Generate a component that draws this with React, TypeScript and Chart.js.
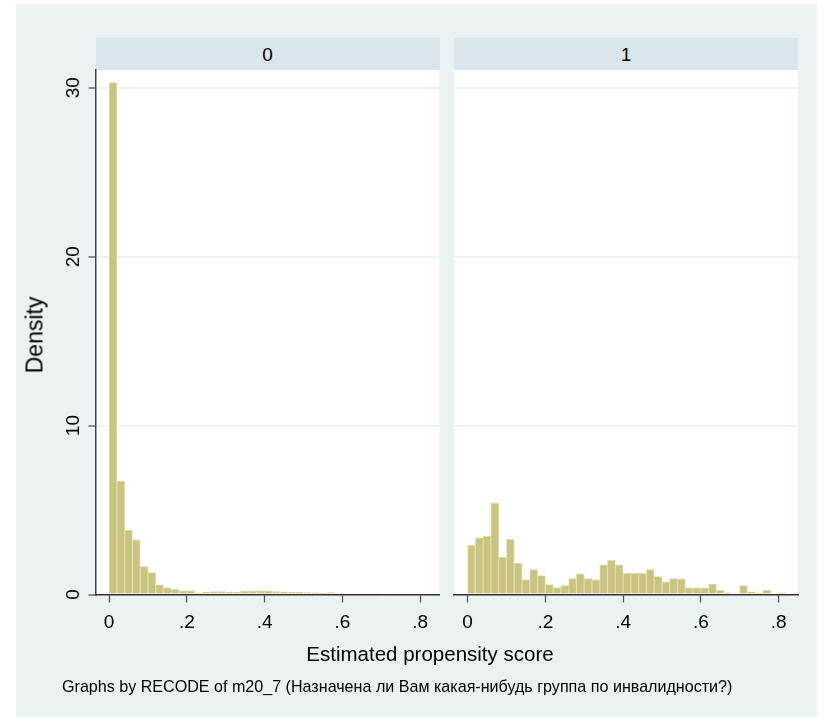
import React, { useEffect, useRef } from 'react';
import { Chart, registerables } from 'chart.js';

Chart.register(...registerables);

// ---------------- data ----------------
const binStarts = [
  0, 0.02, 0.04, 0.06, 0.08, 0.1, 0.12, 0.14, 0.16, 0.18,
  0.2, 0.22, 0.24, 0.26, 0.28, 0.3, 0.32, 0.34, 0.36, 0.38,
  0.4, 0.42, 0.44, 0.46, 0.48, 0.5, 0.52, 0.54, 0.56, 0.58,
  0.6, 0.62, 0.64, 0.66, 0.68, 0.7, 0.72, 0.74, 0.76, 0.78, 0.8,
];
const binWidth = 0.02;

// group 0 (not assigned)
const densityGroup0 = [
  30.3, 6.71, 3.8, 3.24, 1.65, 1.3, 0.57, 0.39, 0.3, 0.22,
  0.22, 0.1, 0.14, 0.18, 0.18, 0.14, 0.14, 0.2, 0.22, 0.22,
  0.22, 0.18, 0.16, 0.14, 0.14, 0.12, 0.1, 0.08, 0.12, 0.06,
  0.06, 0.06, 0.06, 0.06, 0.06,
];

// group 1 (assigned)
const densityGroup1 = [
  2.91, 3.36, 3.44, 5.41, 2.22, 3.26, 1.85, 0.88, 1.47, 1.12,
  0.59, 0.41, 0.53, 0.94, 1.22, 0.94, 0.87, 1.75, 2.03, 1.75,
  1.26, 1.26, 1.26, 1.47, 1.06, 0.75, 0.94, 0.92, 0.39, 0.39,
  0.39, 0.61, 0.24, 0.1, 0, 0.53, 0.16, 0.1, 0.26, 0, 0.1,
];

const panelLabels = ['0', '1'];
const xTickValues = [0, 0.2, 0.4, 0.6, 0.8];
const xTickLabels = ['0', '.2', '.4', '.6', '.8'];
const yTickValues = [0, 10, 20, 30];
const yTickLabels = ['0', '10', '20', '30'];
const xTitle = 'Estimated propensity score';
const yTitle = 'Density';
const noteText =
  'Graphs by RECODE of m20_7 (Назначена ли Вам какая-нибудь группа по инвалидности?)';

// ---------------- layout / style ----------------
const W = 827;
const H = 718;
const FONT = "'Liberation Sans', Arial, Helvetica, sans-serif";
const BG = 'rgb(234,242,243)';
const HEADER_BG = 'rgb(217,230,235)';
const BAR_FILL = 'rgb(202,196,130)';
const BAR_EDGE = 'rgb(224,219,170)';
const X_MIN = -0.035;
const X_MAX = 0.85;
const Y_MIN = 0;
const Y_MAX = 31.05;

const PLOT_TOP = 70;
const PLOT_BOTTOM = 594.5;
const PANELS = [
  { left: 95.5, right: 439.5 },
  { left: 454, right: 798 },
];
const Y_AXIS_W = 60;
const X_AXIS_H = 45;

const areaBg = {
  id: 'areaBg',
  beforeDraw(chart: any) {
    const { ctx, chartArea } = chart;
    if (!chartArea) return;
    ctx.save();
    ctx.fillStyle = '#ffffff';
    ctx.fillRect(chartArea.left, chartArea.top, chartArea.right - chartArea.left, chartArea.bottom - chartArea.top);
    ctx.restore();
  },
};

function labelFor(values: number[], labels: string[], v: number) {
  const i = values.findIndex((t) => Math.abs(t - v) < 1e-9);
  return i >= 0 ? labels[i] : '';
}

function makeConfig(values: number[], panelIndex: number): any {
  const showY = panelIndex === 0;
  const p = PANELS[panelIndex];
  const data = values.map((v, i) => ({ x: binStarts[i] + binWidth / 2, y: v }));
  return {
    type: 'bar',
    data: {
      datasets: [
        {
          data,
          backgroundColor: BAR_FILL,
          borderColor: BAR_EDGE,
          borderWidth: 1,
          borderSkipped: 'start',
          barPercentage: 1,
          categoryPercentage: 1,
        },
      ],
    },
    options: {
      responsive: false,
      animation: false,
      events: [],
      devicePixelRatio: 1,
      layout: {
        padding: {
          left: showY ? p.left - Y_AXIS_W : p.left,
          right: W - p.right,
          top: PLOT_TOP,
          bottom: H - PLOT_BOTTOM - X_AXIS_H,
        },
      },
      plugins: { legend: { display: false }, tooltip: { enabled: false }, title: { display: false } },
      scales: {
        x: {
          type: 'linear',
          min: X_MIN,
          max: X_MAX,
          offset: false,
          z: 1,
          afterBuildTicks: (s: any) => {
            s.ticks = xTickValues.map((v) => ({ value: v }));
          },
          afterFit: (s: any) => {
            s.height = X_AXIS_H;
          },
          grid: {
            display: true,
            drawOnChartArea: false,
            drawTicks: true,
            offset: false,
            tickLength: 8,
            tickColor: '#555555',
            tickWidth: 1.3,
          },
          border: { display: true, color: '#333333', width: 1.5 },
          ticks: {
            autoSkip: false,
            maxRotation: 0,
            minRotation: 0,
            padding: 9,
            color: '#000000',
            font: { family: FONT, size: 19 },
            callback: (v: any) => labelFor(xTickValues, xTickLabels, Number(v)),
          },
        },
        y: {
          type: 'linear',
          min: Y_MIN,
          max: Y_MAX,
          afterBuildTicks: (s: any) => {
            s.ticks = yTickValues.map((v) => ({ value: v }));
          },
          afterFit: (s: any) => {
            s.width = showY ? Y_AXIS_W : 0;
          },
          grid: {
            display: true,
            drawOnChartArea: true,
            drawTicks: showY,
            tickLength: showY ? 7 : 0,
            color: (ctx: any) => (ctx.tick && ctx.tick.value === 0 ? 'rgba(0,0,0,0)' : BG),
            lineWidth: 2,
            tickColor: '#555555',
            tickWidth: 1.3,
          },
          border: { display: showY, color: '#444444', width: 1.5 },
          ticks: {
            display: showY,
            autoSkip: false,
            minRotation: 90,
            maxRotation: 90,
            crossAlign: 'center',
            padding: 4,
            color: '#000000',
            font: { family: FONT, size: 19 },
            callback: (v: any) => labelFor(yTickValues, yTickLabels, Number(v)),
          },
        },
      },
    },
    plugins: [areaBg],
  };
}

function Panel({ values, index }: { values: number[]; index: number }) {
  const ref = useRef<HTMLCanvasElement | null>(null);
  useEffect(() => {
    if (!ref.current) return;
    const chart = new Chart(ref.current, makeConfig(values, index));
    return () => chart.destroy();
  }, [values, index]);
  return (
    <canvas
      ref={ref}
      width={W}
      height={H}
      style={{ position: 'absolute', left: 0, top: 0, width: W, height: H }}
    />
  );
}

export default function App() {
  const text: React.CSSProperties = {
    position: 'absolute',
    fontFamily: FONT,
    color: '#000',
    whiteSpace: 'nowrap',
    lineHeight: 1,
  };
  return (
    <div style={{ position: 'absolute', left: 0, top: 0, width: W, height: H, background: '#fff', overflow: 'hidden' }}>
      <div style={{ position: 'absolute', left: 16, top: 4, width: 801, height: 713, background: BG }} />
      {PANELS.map((p, i) => (
        <div
          key={'h' + i}
          style={{
            position: 'absolute',
            left: p.left,
            top: 37.7,
            width: p.right - p.left,
            height: PLOT_TOP - 37.7,
            background: HEADER_BG,
          }}
        />
      ))}
      {PANELS.map((p, i) => (
        <div
          key={'ht' + i}
          style={{ ...text, left: (p.left + p.right) / 2, top: 54, fontSize: 19, transform: 'translate(-50%,-50%)' }}
        >
          {panelLabels[i]}
        </div>
      ))}
      <Panel values={densityGroup0} index={0} />
      <Panel values={densityGroup1} index={1} />
      <div style={{ ...text, left: 35, top: 335, fontSize: 23, transform: 'translate(-50%,-50%) rotate(-90deg)' }}>
        {yTitle}
      </div>
      <div style={{ ...text, left: 430, top: 654, fontSize: 20.5, transform: 'translate(-50%,-50%)' }}>{xTitle}</div>
      <div style={{ ...text, left: 62, top: 686, fontSize: 16.1, transform: 'translate(0,-50%)' }}>{noteText}</div>
    </div>
  );
}
